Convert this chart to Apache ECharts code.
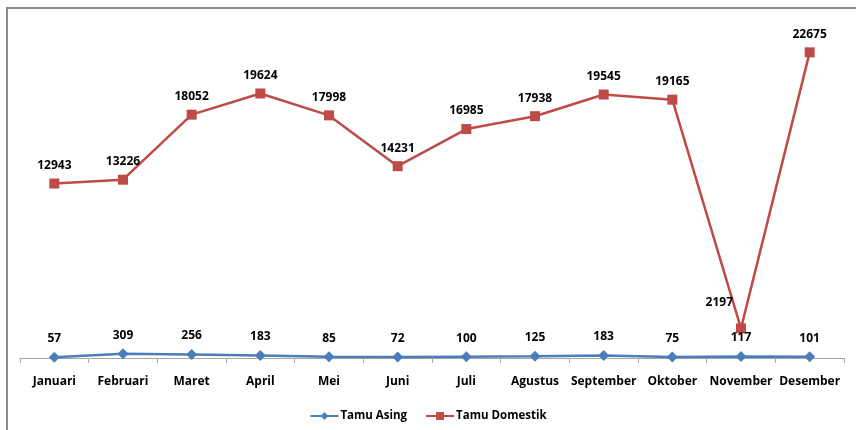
<!DOCTYPE html>
<html>
<head>
<meta charset="utf-8">
<script src="https://cdn.jsdelivr.net/npm/echarts@6/dist/echarts.min.js"></script>
<style>
  html, body { margin: 0; padding: 0; background: #fff; }
  #main { width: 856px; height: 430px; }
</style>
</head>
<body>
<div id="main"></div>
<script>
// data
var months = ['Januari', 'Februari', 'Maret', 'April', 'Mei', 'Juni', 'Juli', 'Agustus', 'September', 'Oktober', 'November', 'Desember'];
var tamuAsing = [57, 309, 256, 183, 85, 72, 100, 125, 183, 75, 117, 101];
var tamuDomestik = [12943, 13226, 18052, 19624, 17998, 14231, 16985, 17938, 19545, 19165, 2197, 22675];

var fontFam = '"Open Sans", "DejaVu Sans", sans-serif';

// november domestic label sits to the left of the point
var domData = tamuDomestik.map(function (v, i) {
  if (i === 10) {
    return { value: v, label: { position: 'left', distance: 3, offset: [0, -26] } };
  }
  return v;
});

var chart = echarts.init(document.getElementById('main'));
chart.setOption({
  animation: false,
  grid: { left: 20, right: 12, top: 21, bottom: 72 },
  graphic: [{
    type: 'rect',
    shape: { x: 7, y: 8, width: 900, height: 500 },
    style: { fill: 'none', stroke: '#8a8a8a', lineWidth: 2 },
    silent: true
  }],
  legend: {
    bottom: 3,
    left: 'center',
    itemWidth: 28,
    itemHeight: 10,
    itemGap: 18,
    textStyle: { fontFamily: fontFam, fontWeight: 'bold', fontSize: 11.5, color: '#000', padding: [0, 0, 0, -3] },
    data: ['Tamu Asing', 'Tamu Domestik']
  },
  xAxis: {
    type: 'category',
    data: months,
    boundaryGap: true,
    axisLine: { lineStyle: { color: '#a6a6a6', width: 1 } },
    axisTick: { show: true, length: 5, lineStyle: { color: '#a6a6a6' } },
    axisLabel: { margin: 18, color: '#000', fontFamily: fontFam, fontWeight: 'bold', fontSize: 12, interval: 0 }
  },
  yAxis: {
    type: 'value',
    min: 0,
    max: 25000,
    show: false,
    splitLine: { show: false }
  },
  series: [
    {
      name: 'Tamu Asing',
      type: 'line',
      data: tamuAsing,
      symbol: 'diamond',
      symbolSize: 11,
      itemStyle: { color: '#4A7EBB' },
      lineStyle: { color: '#4A7EBB', width: 2.5 },
      label: { show: true, position: 'top', distance: 7, color: '#000', fontFamily: fontFam, fontWeight: 'bold', fontSize: 12 }
    },
    {
      name: 'Tamu Domestik',
      type: 'line',
      data: domData,
      symbol: 'rect',
      symbolSize: 10,
      itemStyle: { color: '#BE4B48' },
      lineStyle: { color: '#BE4B48', width: 2.5 },
      label: { show: true, position: 'top', distance: 7, color: '#000', fontFamily: fontFam, fontWeight: 'bold', fontSize: 12 }
    }
  ]
});
</script>
</body>
</html>
